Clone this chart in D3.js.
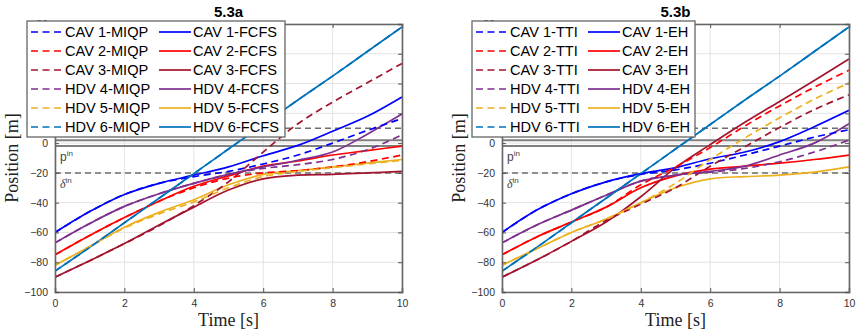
<!DOCTYPE html>
<html>
<head>
<meta charset="utf-8">
<script src="https://cdn.jsdelivr.net/npm/d3@7"></script>
<style>
body { margin: 0; background: #fff; }
svg { display: block; }
</style>
</head>
<body>
<div id="chart"></div>
<script>
// time samples [s]
var time = [0, 1, 2, 3, 4, 5, 6, 7, 8, 9, 10];

// 5.3a  (MIQP dashed, FCFS solid)
var cav1Miqp = [-60, -46, -34.5, -27, -22.5, -19, -14, -8, 0, 8.5, 16.5];
var cav1Fcfs = [-60, -46, -34.5, -27, -21.5, -16, -8.5, -1.5, 8, 18, 31];
var cav2Miqp = [-75, -62, -50, -39, -30, -23.5, -20, -18.5, -16, -12.5, -8];
var cav2Fcfs = [-75, -62, -50, -39, -29, -22, -15.5, -12, -8, -5, -2];
var cav3Miqp = [-90, -79, -67.5, -55.5, -42, -26, -6, 13, 27.5, 40.5, 53.5];
var cav3Fcfs = [-90, -79, -67.5, -55, -43, -31.5, -24, -21.5, -21, -20, -19];
var hdv4Miqp = [-67, -54, -42.5, -34, -27, -21, -17, -14.5, -11, -4.5, 5.5];
var hdv4Fcfs = [-67, -54, -42.5, -34, -27, -21, -16, -11.5, -6, 6, 19.5];
var hdv5Miqp = [-82, -69.5, -57, -47.5, -39.5, -30, -22.5, -19, -16.5, -14, -11.5];
var hdv5Fcfs = [-82, -69.5, -56.5, -46.5, -38, -28, -21, -18.5, -16, -13.5, -11];
var hdv6Miqp = [-86, -70, -53.5, -37, -20.5, -4, 12.5, 29, 45, 61.5, 78];
var hdv6Fcfs = [-86, -70, -53.5, -37, -20.5, -4, 12.5, 29, 45, 61.5, 78];

// 5.3b  (TTI dashed, EH solid)
var cav1Tti = [-60, -45, -34, -26, -21, -18, -13.5, -8, -2, 4, 9];
var cav1Eh  = [-60, -45, -34, -26, -20.5, -16.5, -10.5, -6, 1, 11, 22];
var cav2Tti = [-75, -63, -53, -43, -28, -16, -3, 11.5, 25, 37.5, 49];
var cav2Eh  = [-75, -63, -53, -43, -30, -22, -17.5, -15.5, -13.5, -11, -8];
var cav3Tti = [-90, -78.5, -66, -52, -41, -30, -15.5, -2.5, 10.5, 22.5, 32.5];
var cav3Eh  = [-90, -78.5, -66, -53, -36, -16.5, -1, 14, 28, 42, 56.5];
var hdv4Tti = [-67, -55, -45, -35, -25.5, -21.5, -19.5, -17, -12.5, -6, 2];
var hdv4Eh  = [-67, -55, -45, -35, -25.5, -21.5, -19, -15.5, -8, 0, 13];
var hdv5Tti = [-82, -71, -60, -51, -40, -27, -11, 3.5, 17, 29.5, 40.5];
var hdv5Eh  = [-82, -71, -60, -51, -40, -30, -24, -22.5, -21.5, -19.5, -16];
var hdv6Tti = [-86, -70, -53.5, -37, -20.5, -4, 12.5, 29, 45, 61.5, 78];
var hdv6Eh  = [-86, -70, -53.5, -37, -20.5, -4, 12.5, 29, 45, 61.5, 78];

var vehicles = ['CAV 1', 'CAV 2', 'CAV 3', 'HDV 4', 'HDV 5', 'HDV 6'];
var vehColors = ['#0000ff', '#ff0000', '#a2142f', '#7e2f8e', '#edb120', '#0072bd'];

var xTicks = [0, 2, 4, 6, 8, 10];
var yTicks = [-100, -80, -60, -40, -20, 0, 20, 40, 60, 80];
var refDashed = [10, -20];
var refSolid = [2, -2];

var W = 857, H = 332;
var svg = d3.select('#chart').append('svg')
    .attr('width', W)
    .attr('height', H);

var defs = svg.append('defs');

var panels = [
    {id: 'a', title: '5.3a', left: 55, methods: ['MIQP', 'FCFS'],
     dashed: [cav1Miqp, cav2Miqp, cav3Miqp, hdv4Miqp, hdv5Miqp, hdv6Miqp],
     solid: [cav1Fcfs, cav2Fcfs, cav3Fcfs, hdv4Fcfs, hdv5Fcfs, hdv6Fcfs],
     legX: 27, legW: 258, col2: 132},
    {id: 'b', title: '5.3b', left: 502, methods: ['TTI', 'EH'],
     dashed: [cav1Tti, cav2Tti, cav3Tti, hdv4Tti, hdv5Tti, hdv6Tti],
     solid: [cav1Eh, cav2Eh, cav3Eh, hdv4Eh, hdv5Eh, hdv6Eh],
     legX: 472, legW: 223, col2: 116}
];

var plotW = 347, plotTop = 24, plotBottom = 292;
var dashPattern = '7,4.5';

panels.forEach(function(p) {
    var x = d3.scaleLinear().domain([0, 10]).range([p.left, p.left + plotW]);
    var y = d3.scaleLinear().domain([-100, 80]).range([plotBottom, plotTop]);

    defs.append('clipPath').attr('id', 'clip' + p.id)
        .append('rect')
        .attr('x', x(0)).attr('y', y(80))
        .attr('width', x(10) - x(0)).attr('height', y(-100) - y(80));

    var g = svg.append('g');

    // grid
    g.selectAll('.gx').data(xTicks).enter().append('line')
        .attr('x1', d => x(d)).attr('x2', d => x(d))
        .attr('y1', y(80)).attr('y2', y(-100))
        .attr('stroke', '#e3e3e3').attr('stroke-width', 1);
    g.selectAll('.gy').data(yTicks).enter().append('line')
        .attr('x1', x(0)).attr('x2', x(10))
        .attr('y1', d => y(d)).attr('y2', d => y(d))
        .attr('stroke', '#e3e3e3').attr('stroke-width', 1);

    // reference lines
    g.selectAll('.rs').data(refSolid).enter().append('line')
        .attr('x1', x(0)).attr('x2', x(10))
        .attr('y1', d => y(d)).attr('y2', d => y(d))
        .attr('stroke', '#808080').attr('stroke-width', 2);
    g.selectAll('.rd').data(refDashed).enter().append('line')
        .attr('x1', x(0)).attr('x2', x(10))
        .attr('y1', d => y(d)).attr('y2', d => y(d))
        .attr('stroke', '#6e6e6e').attr('stroke-width', 1.5)
        .attr('stroke-dasharray', '6,4');

    // p_in / delta_in labels
    var pl = g.append('text').attr('x', x(0) + 5).attr('y', y(-12))
        .attr('font-family', 'Liberation Sans, Arial, sans-serif')
        .attr('font-size', 12).attr('fill', '#444').text('p');
    pl.append('tspan').attr('dy', -5).attr('font-size', 8).text('in');
    var dl = g.append('text').attr('x', x(0) + 5).attr('y', y(-30))
        .attr('font-family', 'Liberation Serif, serif')
        .attr('font-style', 'italic')
        .attr('font-size', 12).attr('fill', '#444').text('δ');
    dl.append('tspan').attr('dy', -5).attr('font-size', 8)
        .attr('font-style', 'normal')
        .attr('font-family', 'Liberation Sans, Arial, sans-serif').text('in');

    var line = d3.line()
        .x((d, i) => x(time[i]))
        .y(d => y(d))
        .curve(d3.curveCatmullRom.alpha(0.5));

    var lines = g.append('g').attr('clip-path', 'url(#clip' + p.id + ')');
    p.solid.forEach(function(s, k) {
        lines.append('path').datum(s)
            .attr('fill', 'none')
            .attr('stroke', vehColors[k])
            .attr('stroke-width', 1.7)
            .attr('d', line);
    });
    p.dashed.forEach(function(s, k) {
        lines.append('path').datum(s)
            .attr('fill', 'none')
            .attr('stroke', vehColors[k])
            .attr('stroke-width', 1.7)
            .attr('stroke-dasharray', dashPattern)
            .attr('d', line);
    });

    // axes (MATLAB style: box, inward ticks)
    var font = 'Liberation Sans, Arial, sans-serif';
    var xAxis = g.append('g').attr('transform', 'translate(0,' + plotBottom + ')')
        .call(d3.axisBottom(x).tickValues(xTicks).tickSize(-4).tickPadding(8));
    var xTop = g.append('g').attr('transform', 'translate(0,' + plotTop + ')')
        .call(d3.axisTop(x).tickValues(xTicks).tickSize(-4).tickFormat(''));
    var yAxis = g.append('g').attr('transform', 'translate(' + x(0) + ',0)')
        .call(d3.axisLeft(y).tickValues(yTicks).tickSize(-4).tickPadding(7));
    var yRight = g.append('g').attr('transform', 'translate(' + x(10) + ',0)')
        .call(d3.axisRight(y).tickValues(yTicks).tickSize(-4).tickFormat(''));
    [xAxis, xTop, yAxis, yRight].forEach(function(a) {
        a.select('.domain').attr('stroke', '#666').attr('stroke-width', 1.6);
        a.selectAll('.tick line').attr('stroke', '#555');
        a.selectAll('.tick text').attr('font-family', font)
            .attr('font-size', 10.5).attr('fill', '#333');
    });

    // axis labels
    svg.append('text')
        .attr('x', (x(0) + x(10)) / 2).attr('y', 326)
        .attr('text-anchor', 'middle')
        .attr('font-family', 'Liberation Serif, Times New Roman, serif')
        .attr('font-size', 18).attr('fill', '#222')
        .text('Time [s]');
    svg.append('text')
        .attr('transform', 'translate(' + (x(0) - 37) + ',' + ((plotTop + plotBottom) / 2) + ') rotate(-90)')
        .attr('text-anchor', 'middle')
        .attr('font-family', 'Liberation Serif, Times New Roman, serif')
        .attr('font-size', 18).attr('fill', '#222')
        .text('Position [m]');

    // title
    svg.append('text')
        .attr('x', (x(0) + x(10)) / 2).attr('y', 17)
        .attr('text-anchor', 'middle')
        .attr('font-family', font).attr('font-weight', 'bold')
        .attr('font-size', 15).attr('fill', '#000')
        .text(p.title);

    // legend
    var leg = svg.append('g');
    leg.append('rect')
        .attr('x', p.legX).attr('y', 21)
        .attr('width', p.legW).attr('height', 116)
        .attr('fill', '#fff').attr('stroke', '#666').attr('stroke-width', 1.3);
    vehicles.forEach(function(v, k) {
        var cy = 32 + k * 19;
        [0, 1].forEach(function(c) {
            var ox = p.legX + (c === 0 ? 4 : p.col2);
            leg.append('line')
                .attr('x1', ox).attr('x2', ox + 32)
                .attr('y1', cy).attr('y2', cy)
                .attr('stroke', vehColors[k]).attr('stroke-width', 1.7)
                .attr('stroke-dasharray', c === 0 ? dashPattern : null);
            leg.append('text')
                .attr('x', ox + 34).attr('y', cy + 5.2)
                .attr('font-family', font).attr('font-size', 14.6)
                .attr('fill', '#000')
                .text(v + '-' + p.methods[c]);
        });
    });
});
</script>
</body>
</html>
